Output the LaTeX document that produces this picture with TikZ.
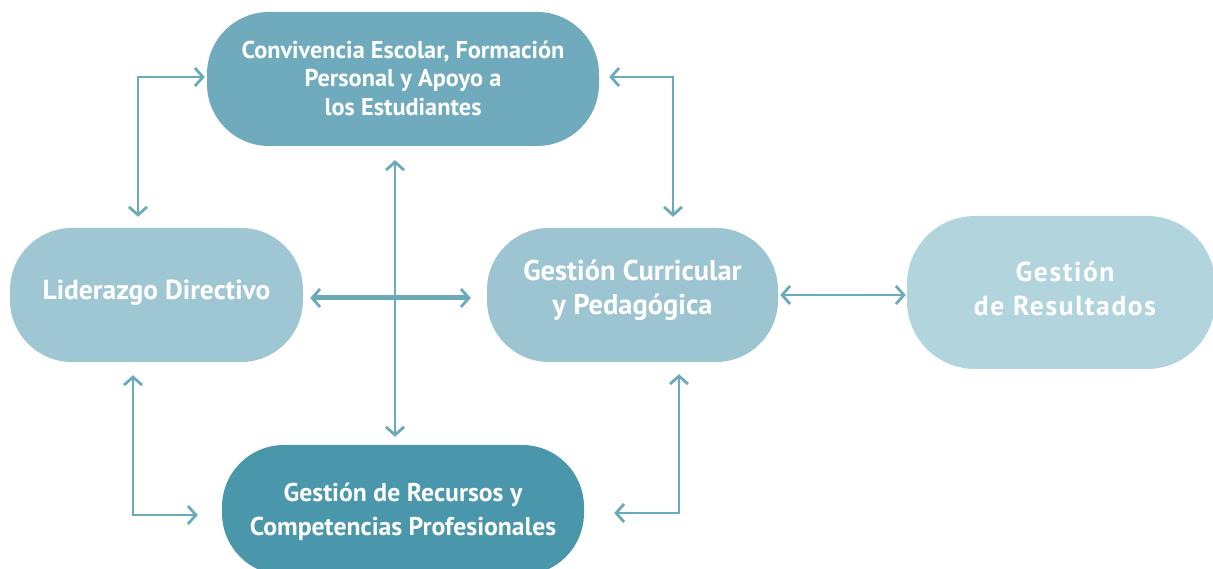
\documentclass[tikz,border=0pt]{standalone}
\usepackage{fontspec}
\setmainfont{PT Sans}
\usetikzlibrary{arrows.meta}
\definecolor{cconv}{HTML}{6FABBC}
\definecolor{clid}{HTML}{9FC7D3}
\definecolor{ccur}{HTML}{9DC5D1}
\definecolor{cres}{HTML}{B1D4DD}
\definecolor{crec}{HTML}{4A96AB}
\definecolor{carr}{HTML}{6AAABB}
\tikzset{
  box/.style={rectangle, rounded corners=62pt, inner sep=0pt},
  txt/.style={inner sep=0pt, align=center, text=white},
  arr/.style={draw=carr, line width=2.8pt,
    {Straight Barb[length=8pt,width=18pt,line width=2.8pt]}-{Straight Barb[length=8pt,width=18pt,line width=2.8pt]}},
  thickarr/.style={arr, line width=5pt},
}
\begin{document}
\begin{tikzpicture}[x=1pt,y=1pt]
\useasboundingbox (0,0) rectangle (1213,569);
\begin{scope}
\clip (0,0) rectangle (1213,569);
\node[box, fill=cconv, minimum width=392pt, minimum height=134pt] (conv) at (403,490) {};
\node[box, fill=clid, minimum width=293pt, minimum height=134pt] (lid) at (156.5,274) {};
\node[box, fill=ccur, minimum width=291pt, minimum height=134pt] (cur) at (632.5,274) {};
\node[box, fill=cres, minimum width=308pt, minimum height=153pt, rounded corners=68pt] (res) at (1061,276.5) {};
\node[box, fill=crec, minimum width=362pt, minimum height=130pt] (rec) at (403,59) {};
\end{scope}
\node[txt, font=\bfseries\fontsize{24.3}{28.5}\selectfont] (convt) at ([yshift=1pt]conv.center)
  {Convivencia Escolar, Formación\\Personal y Apoyo a\\los Estudiantes};
\node[txt, font=\bfseries\fontsize{27.5}{34}\selectfont] (lidt) at ([yshift=2pt]lid.center)
  {Liderazgo Directivo};
\node[txt, font=\bfseries\fontsize{28.5}{34}\selectfont] (curt) at ([yshift=5pt]cur.center)
  {Gestión Curricular\\y Pedagógica};
\node[txt, font=\bfseries\fontsize{27.5}{34}\selectfont] (rest) at ([xshift=4pt,yshift=4pt]res.center)
  {\addfontfeatures{LetterSpace=6}Gestión\\\addfontfeatures{LetterSpace=6}de Resultados};
\node[txt, font=\bfseries\fontsize{25.7}{34}\selectfont] (rect) at ([yshift=-2pt]rec.center)
  {Gestión de Recursos y\\Competencias Profesionales};
% connectors
\draw[arr] ([xshift=-18.5pt,yshift=11pt]lid.north) |- ([xshift=-2pt,yshift=2pt]conv.west);
\draw[arr] ([xshift=40.5pt,yshift=11pt]cur.north) |- ([xshift=10pt,yshift=2pt]conv.east);
\draw[arr] ([xshift=-8pt,yshift=-14pt]conv.south) -- ([xshift=-8pt,yshift=8pt]rec.north);
\draw[thickarr] ([xshift=7pt,yshift=-3pt]lid.east) -- ([xshift=-16pt,yshift=-3pt]cur.west);
\draw[arr] ([xshift=2pt]cur.east) -- ([xshift=-1pt,yshift=-2.5pt]res.west);
\draw[arr] ([xshift=-23.5pt,yshift=-13pt]lid.south) |- ([xshift=-24pt,yshift=-5pt]rec.west);
\draw[arr] ([xshift=46.5pt,yshift=-12pt]cur.south) |- ([xshift=30pt,yshift=-3pt]rec.east);
\end{tikzpicture}
\end{document}
